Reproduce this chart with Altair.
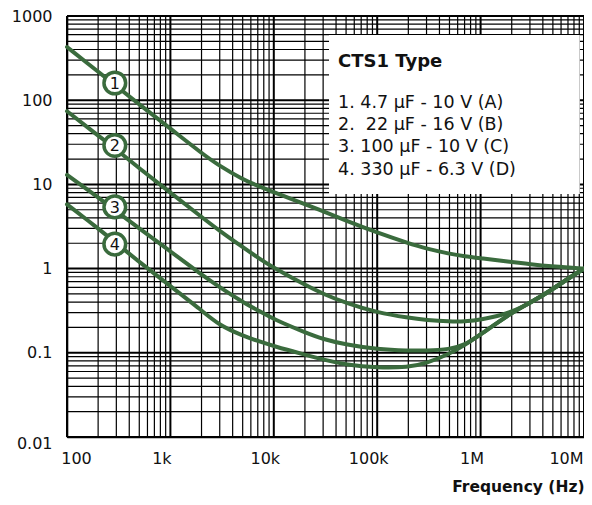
import altair as alt
import pandas as pd

# ---- data ----
freqs = [100, 200, 300, 500, 1e3, 2e3, 3e3, 5e3, 7e3, 1e4, 2e4, 3e4, 5e4,
         1e5, 2e5, 3e5, 5e5, 7e5, 1e6, 2e6, 3e6, 5e6, 7e6, 1e7]
esr_1 = [428, 218, 147, 89, 46, 23.5, 16.5, 11.5, 9.6, 8.1, 5.8, 4.8, 3.7,
         2.67, 2.0, 1.72, 1.5, 1.4, 1.33, 1.2, 1.13, 1.06, 1.03, 1.0]
esr_2 = [74, 38, 26, 15.5, 8.0, 4.1, 2.8, 1.8, 1.35, 1.02, 0.64, 0.5, 0.39,
         0.3, 0.26, 0.245, 0.235, 0.235, 0.245, 0.3, 0.39, 0.57, 0.76, 1.0]
esr_3 = [13, 7.0, 4.8, 3.0, 1.6, 0.85, 0.6, 0.4, 0.32, 0.25, 0.175, 0.145, 0.125,
         0.11, 0.106, 0.106, 0.11, 0.123, 0.165, 0.3, 0.39, 0.57, 0.76, 1.0]
esr_4 = [5.8, 3.0, 2.0, 1.2, 0.62, 0.32, 0.21, 0.16, 0.138, 0.12, 0.095, 0.083, 0.072,
         0.066, 0.067, 0.075, 0.097, 0.123, 0.165, 0.3, 0.39, 0.57, 0.76, 1.0]
series = ["1", "2", "3", "4"]

marker_freq = 290
marker_vals = [160, 29, 5.4, 1.95]

x_ticks = [100, 1e3, 1e4, 1e5, 1e6, 1e7]
y_ticks = [0.01, 0.1, 1, 10, 100, 1000]
grid_mult = [1, 2, 3, 4, 5, 6, 7, 8, 9]
x_decades = [100, 1e3, 1e4, 1e5, 1e6]
y_decades = [0.01, 0.1, 1, 10, 100]

legend_title = "CTS1 Type"
legend_lines = ["1. 4.7 μF - 10 V (A)",
                "2.\u00a0\u00a022 μF - 16 V (B)",
                "3. 100 μF - 10 V (C)",
                "4. 330 μF - 6.3 V (D)"]
legend_box = {"f": 34200, "f2": 9.1e6, "v": 594, "v2": 7.7}
legend_text_f = 41800
legend_title_v = 284
legend_line_v = [92.6, 50.7, 27.8, 14.8]

GREEN = "#3a6b3d"
FONT = "DejaVu Sans"

# ---- tables ----
rows = []
for s, vals in zip(series, [esr_1, esr_2, esr_3, esr_4]):
    for f, v in zip(freqs, vals):
        rows.append({"s": s, "f": f, "v": v})
curves = pd.DataFrame(rows)

gx = [m * d for d in x_decades for m in grid_mult] + [1e7]
gy = [m * d for d in y_decades for m in grid_mult] + [1000]
grid_x = pd.DataFrame({"f": gx, "major": [g in x_ticks for g in gx]})
grid_y = pd.DataFrame({"v": gy, "major": [g in y_ticks for g in gy]})

markers = pd.DataFrame({"s": series, "f": [marker_freq] * 4, "v": marker_vals})
box = pd.DataFrame([legend_box])
ltitle = pd.DataFrame({"t": [legend_title], "f": [legend_text_f], "v": [legend_title_v]})
llines = pd.DataFrame({"t": legend_lines, "f": [legend_text_f] * 4, "v": legend_line_v})

# ---- shared encodings ----
X = alt.X("f:Q",
          scale=alt.Scale(type="log", domain=[100, 1e7], nice=False),
          axis=alt.Axis(values=x_ticks, grid=False, ticks=False,
                        domainColor="black", domainWidth=1.6,
                        labelExpr="datum.value >= 1e6 ? format(datum.value/1e6,'d') + 'M' : "
                                  "(datum.value >= 1e3 ? format(datum.value/1e3,'d') + 'k' : format(datum.value,'d'))",
                        labelFont=FONT, labelFontSize=16, labelColor="#111",
                        labelPadding=13, labelFlush=False,
                        labelOffset={"condition": [{"test": "datum.value < 150", "value": 9},
                                                   {"test": "datum.value > 5e6", "value": -18}],
                                     "value": -9},
                        title="Frequency (Hz)", titleFont=FONT, titleFontSize=15.5,
                        titleFontWeight="bold", titleColor="#111",
                        titleAnchor="end", titlePadding=13))
Y = alt.Y("v:Q",
          scale=alt.Scale(type="log", domain=[0.01, 1000], nice=False),
          axis=alt.Axis(values=y_ticks, grid=False, ticks=False,
                        domainColor="black", domainWidth=1.6,
                        labelExpr="datum.value < 1 ? format(datum.value, '.2~f') : format(datum.value, 'd')",
                        labelFont=FONT, labelFontSize=16, labelColor="#111",
                        labelPadding=15, labelFlush=False,
                        labelOffset={"condition": {"test": "datum.value < 0.05", "value": 6}, "value": 0},
                        title=None))

vgrid = alt.Chart(grid_x).mark_rule(color="black").encode(
    x=X,
    strokeWidth=alt.condition("datum.major", alt.value(2.0), alt.value(1.2)))
hgrid = alt.Chart(grid_y).mark_rule(color="black").encode(
    y=Y,
    strokeWidth=alt.condition("datum.major", alt.value(2.0), alt.value(1.2)))

lines = alt.Chart(curves).mark_line(color=GREEN, strokeWidth=4, interpolate="basis",
                                    strokeCap="round").encode(
    x=X, y=Y, detail="s:N")

circles = alt.Chart(markers).mark_point(shape="circle", size=470, filled=False,
                                        fill="white", fillOpacity=1,
                                        stroke=GREEN, strokeWidth=3.5, opacity=1).encode(x=X, y=Y)
nums = alt.Chart(markers).mark_text(font=FONT, fontSize=16, color="#111",
                                    baseline="middle", align="center", dy=1).encode(
    x=X, y=Y, text="s:N")

rect = alt.Chart(box).mark_rect(color="white", opacity=1).encode(
    x=X, x2="f2:Q", y=Y, y2="v2:Q")
ttl = alt.Chart(ltitle).mark_text(font=FONT, fontSize=18, fontWeight="bold", color="#111",
                                  align="left", baseline="middle").encode(x=X, y=Y, text="t:N")
leg = alt.Chart(llines).mark_text(font=FONT, fontSize=17.5, color="#111",
                                  align="left", baseline="middle").encode(x=X, y=Y, text="t:N")

chart = alt.layer(vgrid, hgrid, rect, lines, circles, nums, ttl, leg).properties(
    width=517, height=421, autosize="none",
    padding={"left": 59, "top": 8, "right": 0, "bottom": 60},
).configure_view(stroke=None).configure(background="white")

chart.save("out.html", embed_options={"renderer": "svg", "actions": False})
